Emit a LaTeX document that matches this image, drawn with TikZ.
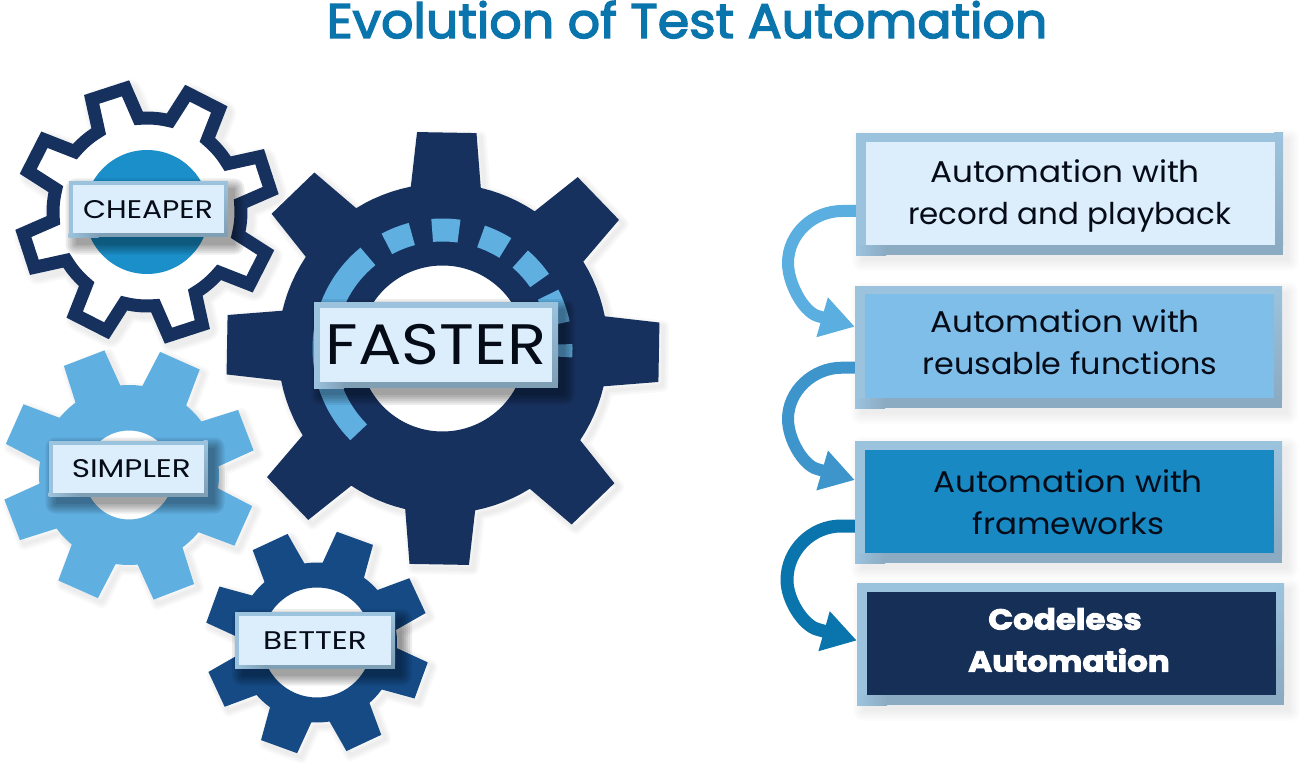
\documentclass[tikz,border=0pt]{standalone}
\usepackage{fontspec}
\usetikzlibrary{arrows.meta}
\setmainfont{Poppins}
\newfontfamily\titlef[FakeBold=3,FakeStretch=1.045]{Poppins}
\newfontfamily\heavyf[FakeBold=3,FakeStretch=1.12]{Poppins Bold}
\newcommand\sx[2]{{\addfontfeature{FakeStretch=#1}#2}}
\definecolor{titleblue}{HTML}{0A74AC}
\definecolor{navy}{HTML}{17315E}
\definecolor{skyg}{HTML}{5FAFE1}
\definecolor{midg}{HTML}{154A85}
\definecolor{discblue}{HTML}{1A8FC9}
\definecolor{lblfill}{HTML}{DCEEFB}
\definecolor{lbledge}{HTML}{9CC3DE}
\definecolor{lbldark}{HTML}{7F9FB5}
\definecolor{flowdark}{HTML}{8BABC2}
\definecolor{boxb}{HTML}{7FBEE8}
\definecolor{boxc}{HTML}{1989C3}
\definecolor{boxd}{HTML}{152F57}
\definecolor{arra}{HTML}{5AAEE0}
\definecolor{arrb}{HTML}{3D95CB}
\definecolor{arrc}{HTML}{0A74AC}
\definecolor{inktext}{HTML}{060B18}
\tikzset{
  gearshadow/.style={draw=black,draw opacity=.025,fill=none,line join=round},
  ringseg/.style={draw=skyg,line width=23pt},
  flowarrow/.style={line width=12pt,-{Triangle[length=34pt,width=39pt]}},
  flowtext/.style={align=center,inner sep=0pt,text=inktext,font=\fontsize{30}{42}\selectfont},
  flowbox/.style={fill=lbledge,minimum width=427pt,minimum height=122pt,inner sep=0pt},
}
\newcommand\gadd[2]{\pgfmathsetmacro\gx{\gcx+#2*cos(#1)}\pgfmathsetmacro\gy{\gcy+#2*sin(#1)}\xdef\gearpts{\gearpts (\gx,\gy) --}}
% cx cy N rot Rtip Rroot halfwidthTip halfwidthRoot
\newcommand\gearbuild[8]{%
  \def\gcx{#1}\def\gcy{#2}%
  \pgfmathsetmacro\gstep{360/#3}%
  \pgfmathsetmacro\gdt{atan(#7/#5)}%
  \pgfmathsetmacro\gdr{asin(#8/#6)}%
  \gdef\gearpts{}%
  \foreach \i in {1,...,#3}{%
    \pgfmathsetmacro\ga{#4+(\i-1)*\gstep}%
    \pgfmathsetmacro\gb{\ga-\gdr}\gadd{\gb}{#6}%
    \pgfmathsetmacro\gb{\ga-\gdt}\gadd{\gb}{#5}%
    \pgfmathsetmacro\gb{\ga+\gdt}\gadd{\gb}{#5}%
    \pgfmathsetmacro\gb{\ga+\gdr}\gadd{\gb}{#6}%
    \foreach \k in {1,...,5}{%
      \pgfmathsetmacro\gb{\ga+\gdr+\k*(\gstep-2*\gdr)/6}\gadd{\gb}{#6}%
    }%
  }%
}
% x0 y0 x1 y1 opacity shift: soft shadow of a rectangle
\newcommand\softshadow[6]{%
  \foreach \s in {10,8,...,0}{%
    \fill[black,opacity=#5,rounded corners=\s pt]
      (#1+#6-\s,#2+#6-\s) rectangle (#3+#6+\s,#4+#6+\s);
  }%
}
% name x0 y0 x1 y1 inset text-font text
\newcommand\labelbox[8]{%
  \softshadow{#2}{#3}{#4}{#5}{.07}{7}
  \fill[lbledge] (#2,#3) rectangle (#4,#5);
  \shade[left color=lbledge,right color=lbldark] (#2,#5-#6) rectangle (#2+30,#5);
  \fill[lbldark] (#2+30,#5-#6) rectangle (#4,#5);
  \shade[top color=lbledge,bottom color=lbldark] (#4-#6,#3) rectangle (#4,#5-#6);
  \fill[lblfill] (#2+#6,#3+#6) rectangle (#4-#6,#5-#6);
  \node[inner sep=0pt,text=inktext,font=#7] (#1) at ({(#2+#4)/2},{(#3+#5)/2}) {#8};
}
% x0 y0 : strips of a flow box
\newcommand\flowstrips[2]{%
  \shade[top color=lbledge,bottom color=flowdark] (#1+418,#2) rectangle (#1+427,#2+112);
  \shade[left color=lbledge,right color=flowdark] (#1,#2+112) rectangle (#1+30,#2+122);
  \fill[flowdark] (#1+30,#2+112) rectangle (#1+427,#2+122);
}
\newcommand\ringarc[2]{\draw[ringseg] plot[domain=#1:#2,samples=36] ({442.5+118.5*cos(\x)},{348.5+118.5*sin(\x)});}
\begin{document}
\begin{tikzpicture}[x=1pt,y=-1pt]
\useasboundingbox (0,0) rectangle (1309,778);
\fill[white] (0,0) rectangle (1309,778);
% title
\node[anchor=base,inner sep=0pt,text=titleblue,font={\titlef\fontsize{48.5}{56}\selectfont}] (title) at (687,38) {Evolution of Test Automation};
% gear: cheaper
\gearbuild{147}{212}{8}{27}{125.5}{94}{18}{21}
\foreach \w in {26,22,18}{\draw[gearshadow,line width=\w pt,shift={(4,4)}] \gearpts cycle;}
\fill[white,draw=navy,line width=13pt,miter limit=4] \gearpts cycle;
\fill[discblue] (147,212) circle[radius=62pt];
% gear: simpler
\gearbuild{129}{475}{8}{24}{127}{90}{22}{24}
\foreach \w in {12,8,4}{\draw[gearshadow,line width=\w pt,shift={(4,4)}] \gearpts cycle;}
\fill[skyg,even odd rule] \gearpts cycle (129,475) circle[radius=44.5pt];
% gear: better
\gearbuild{317}{642.5}{8}{20}{112.5}{80}{19.5}{22}
\foreach \w in {12,8,4}{\draw[gearshadow,line width=\w pt,shift={(4,4)}] \gearpts cycle;}
\fill[midg,even odd rule] \gearpts cycle (317,642.5) circle[radius=55pt];
% gear: faster
\gearbuild{443}{348.5}{8}{1}{218}{165}{30}{35}
\foreach \w in {12,8,4}{\draw[gearshadow,line width=\w pt,shift={(4,4)}] \gearpts cycle;}
\fill[navy,even odd rule] \gearpts cycle (442.5,348.5) circle[radius=83pt];
% ring of dashes
\ringarc{-225}{-129}
\ringarc{-118}{-105}
\ringarc{-95}{-82}
\ringarc{-71}{-58}
\ringarc{-49}{-35}
\ringarc{-27}{-12}
\ringarc{-2}{4}
% labels on gears
\labelbox{lcheaper}{68.5}{181.5}{227.5}{237.5}{4}{\fontsize{25.5}{28}\selectfont}{\sx{1.17}{CHEAPER}}
\labelbox{lsimpler}{48.5}{440.5}{207.5}{496.5}{4}{\fontsize{25.5}{28}\selectfont}{\hspace*{6.6pt}\sx{1.22}{SIMPLER}}
\labelbox{lbetter}{235}{612}{395}{668.5}{4}{\fontsize{25.5}{28}\selectfont}{\sx{1.22}{BETTER}}
\labelbox{lfaster}{314}{302}{558}{388}{6}{\fontsize{57}{60}\selectfont}{\sx{1.13}{FASTER}}
% flow boxes
\softshadow{856}{133}{1283}{255}{.012}{6}
\softshadow{855}{286}{1282}{408}{.012}{6}
\softshadow{855}{441}{1282}{563}{.012}{6}
\softshadow{857}{583}{1284}{705}{.012}{6}
\node[flowbox] (b1) at (1069.5,194) {};
\node[flowbox] (b2) at (1068.5,347) {};
\node[flowbox] (b3) at (1068.5,502) {};
\node[flowbox] (b4) at (1070.5,644) {};
\flowstrips{856}{133}
\flowstrips{855}{286}
\flowstrips{855}{441}
\flowstrips{857}{583}
\fill[lblfill] (866,142) rectangle (1275,245);
\fill[boxb] (865,294) rectangle (1274,398);
\fill[boxc] (865,450) rectangle (1274,553);
\fill[boxd] (867,592) rectangle (1276,695);
\node[flowtext] (t1) at (1069.5,196) {\hspace*{-9pt}\sx{1.09}{Automation with}\\\sx{1.03}{record and playback}};
\node[flowtext] (t2) at (1070,342) {\hspace*{-10pt}\sx{1.09}{Automation with}\\\sx{1.06}{reusable functions}};
\node[flowtext] (t3) at (1068.5,502) {\hspace*{-1pt}\sx{1.09}{Automation with}\\\sx{1.085}{frameworks}};
\node[flowtext,text=white,font={\heavyf\fontsize{29}{42}\selectfont}] (t4) at (1069,640) {\hspace*{-8pt}Codeless\\Automation};
% connectors
\draw[flowarrow,draw=arra] ([yshift=-17pt]b1.west) -- (842,211) .. controls (813,211) and (788,234) .. (788,263) .. controls (788,283) and (803,311) .. (817,315.8) -- ([yshift=20.3pt]b2.west);
\draw[flowarrow,draw=arrb] ([yshift=-20.7pt]b2.west) -- (842,367.7) .. controls (813,367.7) and (788,391) .. (788,419) .. controls (788,439) and (803,465) .. (817,469) -- ([yshift=22pt]b3.west);
\draw[flowarrow,draw=arrc,line width=13pt] ([yshift=-24pt]b3.west) -- (841,526) .. controls (812,526) and (787,550) .. (787,580) .. controls (787,600) and (803,625) .. (817,629.2) -- ([yshift=3.5pt]b4.west);
\end{tikzpicture}
\end{document}
